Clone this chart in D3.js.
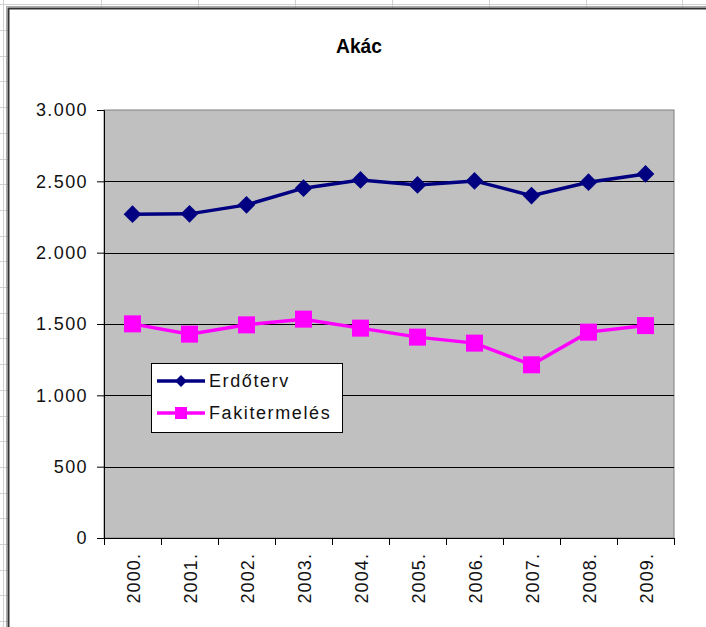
<!DOCTYPE html>
<html>
<head>
<meta charset="utf-8">
<script src="https://cdn.jsdelivr.net/npm/d3@7"></script>
<style>
  html, body { margin: 0; padding: 0; background: #fff; }
  svg { display: block; font-family: "Liberation Sans", Arial, sans-serif; }
</style>
</head>
<body>
<div id="chart"></div>
<script>
// --- data ---
var years = ['2000.', '2001.', '2002.', '2003.', '2004.', '2005.', '2006.', '2007.', '2008.', '2009.'];
var erdoterv = [2270, 2272, 2335, 2452, 2510, 2475, 2503, 2400, 2494, 2552];
var fakitermeles = [1501, 1429, 1494, 1534, 1471, 1408, 1366, 1214, 1443, 1489];
var yTicks = [0, 500, 1000, 1500, 2000, 2500, 3000];
var seriesNames = ['Erdőterv', 'Fakitermelés'];

var W = 706, H = 627;
var plot = { left: 104, right: 674, top: 110, bottom: 538 };

var svg = d3.select('#chart').append('svg')
  .attr('width', W).attr('height', H);

// spreadsheet cells peeking out around the chart object
var grid = svg.append('g').attr('stroke', '#d0d0d0').attr('stroke-width', 1);
grid.append('line').attr('x1', 0).attr('x2', W).attr('y1', 4.5).attr('y2', 4.5);
grid.append('line').attr('x1', 3.5).attr('x2', 3.5).attr('y1', 0).attr('y2', H);
[101, 198, 295, 392, 489, 586, 682].forEach(function(cx) {
  grid.append('line').attr('x1', cx + 0.5).attr('x2', cx + 0.5).attr('y1', 0).attr('y2', 8);
});
for (var ry = 544; ry > 10; ry -= 25.7) {
  grid.append('line').attr('x1', 0).attr('x2', 8).attr('y1', Math.round(ry) + 0.5).attr('y2', Math.round(ry) + 0.5);
}
for (var ry2 = 569.7; ry2 < H; ry2 += 25.7) {
  grid.append('line').attr('x1', 0).attr('x2', 8).attr('y1', Math.round(ry2) + 0.5).attr('y2', Math.round(ry2) + 0.5);
}

// chart object frame (double edge like the Excel object border)
svg.append('rect')
  .attr('x', 8.5).attr('y', 8.5)
  .attr('width', W + 20).attr('height', H + 20)
  .attr('fill', '#fff')
  .attr('stroke', '#333').attr('stroke-width', 2);
svg.append('rect')
  .attr('x', 6.5).attr('y', 6.5)
  .attr('width', W + 20).attr('height', H + 20)
  .attr('fill', 'none')
  .attr('stroke', '#aaa').attr('stroke-width', 1);

// title
svg.append('text')
  .attr('x', 359).attr('y', 53)
  .attr('text-anchor', 'middle')
  .attr('font-size', 21).attr('font-weight', 700)
  .attr('textLength', 46).attr('lengthAdjust', 'spacingAndGlyphs')
  .attr('fill', '#000')
  .text('Akác');

var x = d3.scaleBand().domain(years).range([plot.left, plot.right]);
var y = d3.scaleLinear().domain([0, 3000]).range([plot.bottom, plot.top]);

var hu = d3.formatLocale({ decimal: ',', thousands: '.', grouping: [3], currency: ['', ''] });
var fmt = hu.format(',d');

// plot area
svg.append('rect')
  .attr('x', plot.left).attr('y', plot.top)
  .attr('width', plot.right - plot.left).attr('height', plot.bottom - plot.top)
  .attr('fill', '#c0c0c0')
  .attr('stroke', '#808080').attr('stroke-width', 1);

// horizontal gridlines
svg.append('g').selectAll('line')
  .data(yTicks.slice(1, -1))
  .join('line')
  .attr('x1', plot.left).attr('x2', plot.right)
  .attr('y1', function(d) { return Math.round(y(d)) + 0.5; })
  .attr('y2', function(d) { return Math.round(y(d)) + 0.5; })
  .attr('stroke', '#000').attr('stroke-width', 1);

// y axis
var yAxis = svg.append('g')
  .attr('transform', 'translate(' + plot.left + ',0)')
  .call(d3.axisLeft(y).tickValues(yTicks).tickFormat(fmt).tickSize(7).tickPadding(9));
yAxis.select('.domain').attr('stroke', '#000');
yAxis.selectAll('.tick line').attr('stroke', '#000');
yAxis.selectAll('text')
  .attr('font-size', 18).attr('fill', '#111')
  .attr('font-family', '"Liberation Sans", Arial, sans-serif')
  .attr('letter-spacing', 1.4)
  .attr('dy', '0.33em');

// x axis line + ticks between categories
var xAxis = svg.append('g');
xAxis.append('line')
  .attr('x1', plot.left).attr('x2', plot.right)
  .attr('y1', plot.bottom + 0.5).attr('y2', plot.bottom + 0.5)
  .attr('stroke', '#000');
var bounds = years.map(function(d) { return x(d); }).concat([x.range()[1]]);
xAxis.selectAll('line.tk')
  .data(bounds)
  .join('line').attr('class', 'tk')
  .attr('x1', function(d) { return Math.round(d) + 0.5; })
  .attr('x2', function(d) { return Math.round(d) + 0.5; })
  .attr('y1', plot.bottom).attr('y2', plot.bottom + 7)
  .attr('stroke', '#000');
xAxis.selectAll('text')
  .data(years)
  .join('text')
  .attr('transform', function(d) {
    return 'translate(' + (x(d) + x.bandwidth() / 2 + 1) + ',' + 553 + ') rotate(-90)';
  })
  .attr('text-anchor', 'end')
  .attr('dy', '0.35em')
  .attr('font-size', 18).attr('fill', '#111')
  .attr('letter-spacing', 1.1)
  .text(function(d) { return d; });

var cx = function(i) { return x(years[i]) + x.bandwidth() / 2; };
var line = d3.line()
  .x(function(d, i) { return cx(i); })
  .y(function(d) { return y(d); });

// Fakitermelés
svg.append('path')
  .datum(fakitermeles)
  .attr('d', line)
  .attr('fill', 'none')
  .attr('stroke', '#ff00ff').attr('stroke-width', 3.5);
svg.append('g').selectAll('rect')
  .data(fakitermeles)
  .join('rect')
  .attr('x', function(d, i) { return cx(i) - 8.5; })
  .attr('y', function(d) { return y(d) - 8.5; })
  .attr('width', 17).attr('height', 17)
  .attr('fill', '#ff00ff');

// Erdőterv
svg.append('path')
  .datum(erdoterv)
  .attr('d', line)
  .attr('fill', 'none')
  .attr('stroke', '#000080').attr('stroke-width', 3.5);
var diamond = d3.symbol().type(d3.symbolDiamond2).size(200);
svg.append('g').selectAll('path')
  .data(erdoterv)
  .join('path')
  .attr('d', diamond)
  .attr('transform', function(d, i) { return 'translate(' + cx(i) + ',' + y(d) + ')'; })
  .attr('fill', '#000080');

// legend
var leg = svg.append('g').attr('transform', 'translate(151,363)');
leg.append('rect')
  .attr('x', 0.5).attr('y', 0.5)
  .attr('width', 191).attr('height', 69)
  .attr('fill', '#fff').attr('stroke', '#000').attr('stroke-width', 1);
var colors = ['#000080', '#ff00ff'];
seriesNames.forEach(function(name, i) {
  var ly = 18 + i * 32;
  leg.append('line')
    .attr('x1', 6).attr('x2', 54).attr('y1', ly).attr('y2', ly)
    .attr('stroke', colors[i]).attr('stroke-width', 3.5);
  if (i === 0) {
    leg.append('path')
      .attr('d', d3.symbol().type(d3.symbolDiamond2).size(90))
      .attr('transform', 'translate(30,' + ly + ')')
      .attr('fill', colors[i]);
  } else {
    leg.append('rect')
      .attr('x', 24).attr('y', ly - 6).attr('width', 12).attr('height', 12)
      .attr('fill', colors[i]);
  }
  leg.append('text')
    .attr('x', 58).attr('y', ly)
    .attr('dy', '0.35em')
    .attr('font-size', 18).attr('fill', '#111')
    .attr('letter-spacing', 1.6)
    .text(name);
});
</script>
</body>
</html>
